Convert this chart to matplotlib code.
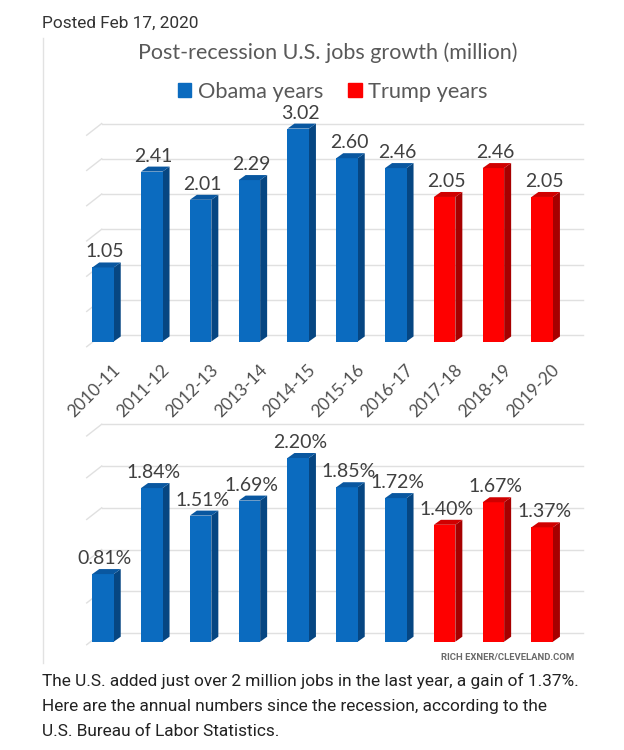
import numpy as np
import matplotlib
matplotlib.use("Agg")
import matplotlib.pyplot as plt
from matplotlib.patches import Polygon, Patch
from matplotlib.lines import Line2D

# data
periods = ['2010-11', '2011-12', '2012-13', '2013-14', '2014-15',
           '2015-16', '2016-17', '2017-18', '2018-19', '2019-20']
jobs = [1.05, 2.41, 2.01, 2.29, 3.02, 2.60, 2.46, 2.05, 2.46, 2.05]
pct = [0.81, 1.84, 1.51, 1.69, 2.20, 1.85, 1.72, 1.40, 1.67, 1.37]
president = ['Obama'] * 7 + ['Trump'] * 3

W, H = 624, 750
fig = plt.figure(figsize=(W / 100, H / 100), dpi=100)
fig.patch.set_facecolor('white')

front = {'Obama': '#0b6bbf', 'Trump': '#fe0000'}
side = {'Obama': '#064682', 'Trump': '#a60000'}
top = {'Obama': '#0957a0', 'Trump': '#d00000'}

BAR0 = 103.0      # pixel x of first bar centre
STEP = 48.8       # pixels between bars
BAR_W = 0.44      # front face width (data units)
DX, DY = 7.0, 5.0  # 3d depth of a bar, pixels
LABEL_FONT = ['Lato', 'DejaVu Sans']
PAGE_FONT = ['Roboto', 'DejaVu Sans']


def px_axes(x0, y0, x1, y1):
    return fig.add_axes([x0 / W, 1 - y1 / H, (x1 - x0) / W, (y1 - y0) / H])


def panel(y_top, y_base, ppu, values, fmt, grid_vals, grid_shift):
    ax = px_axes(80, y_top, 595, y_base)
    ax.set_xlim((80 - BAR0) / STEP, (595 - BAR0) / STEP)
    ax.set_ylim(0, (y_base - y_top) / ppu)
    ax.axis('off')
    x = np.arange(len(values))
    dx = DX / STEP
    dy = DY / ppu

    # back wall gridlines with a short diagonal on the left
    gx0 = (101.7 - BAR0) / STEP
    gx1 = (582.7 - BAR0) / STEP
    gdx = 15.0 / STEP
    gdy = 11.7 / ppu
    for g in grid_vals:
        gy = g + grid_shift / ppu
        ax.add_line(Line2D([gx0, gx1], [gy, gy], color='#e0e0e0', lw=1,
                           zorder=1, clip_on=False))
        ax.add_line(Line2D([gx0 - gdx, gx0], [gy - gdy, gy], color='#e0e0e0',
                           lw=1, zorder=1, clip_on=False))

    colors = [front[p] for p in president]
    ax.bar(x, values, width=BAR_W, color=colors, zorder=3)
    for xi, v, p in zip(x, values, president):
        l, r = xi - BAR_W / 2, xi + BAR_W / 2
        ax.add_patch(Polygon([(r, 0), (r + dx, dy), (r + dx, v + dy), (r, v)],
                             closed=True, color=side[p], lw=0, zorder=2))
        ax.add_patch(Polygon([(l, v), (r, v), (r + dx, v + dy), (l + dx, v + dy)],
                             closed=True, color=top[p], lw=0, zorder=3))
        ax.annotate(fmt.format(v), (xi, v), xytext=(2, 10),
                    textcoords='offset pixels', ha='center', va='baseline',
                    fontsize=14, color='#404040', family=LABEL_FONT)
    return ax


ax1 = panel(100, 341.5, 70.5, jobs, '{:.2f}', np.arange(0, 3.01, 0.5), 6.5)
for xi, lab in zip(np.arange(len(periods)), periods):
    ax1.annotate(lab, (xi, 0), xytext=(15, -26), textcoords='offset pixels',
                 rotation=45, rotation_mode='anchor', ha='right', va='center',
                 fontsize=12.5, color='#505050', family=LABEL_FONT,
                 annotation_clip=False)

ax2 = panel(400, 641.7, 83.5, pct, '{:.2f}%', np.arange(0, 2.51, 0.5), 8.7)

# title, legend and page text
fig.text(328 / W, 1 - 53 / H, 'Post-recession U.S. jobs growth (million)',
         ha='center', va='center', fontsize=15.5, color='#595959',
         family=LABEL_FONT)
handles = [Patch(color=front['Obama'], label='Obama years'),
           Patch(color=front['Trump'], label='Trump years')]
fig.legend(handles=handles, loc='center', bbox_to_anchor=(333 / W, 1 - 92 / H),
           ncol=2, frameon=False, handlelength=0.6, handleheight=0.6,
           handletextpad=0.3, columnspacing=1.15,
           prop={'family': LABEL_FONT, 'size': 15.7}, labelcolor='#595959')

fig.text(42 / W, 1 - 23 / H, 'Posted Feb 17, 2020', ha='left', va='center',
         fontsize=12.4, color='#333333', family=PAGE_FONT)
fig.add_artist(Line2D([43 / W, 43 / W], [1 - 38 / H, 1 - 663 / H],
                      color='#e2e2e2', lw=1))
fig.text(574 / W, 1 - 657 / H, 'RICH EXNER/CLEVELAND.COM', ha='right',
         va='center', fontsize=6.8, fontweight='bold', color='#6a6a6a',
         family=PAGE_FONT)
caption = ['The U.S. added just over 2 million jobs in the last year, a gain of 1.37%.',
           'Here are the annual numbers since the recession, according to the',
           'U.S. Bureau of Labor Statistics.']
for i, line in enumerate(caption):
    fig.text(42 / W, 1 - (681 + 25 * i) / H, line, ha='left', va='center',
             fontsize=12.4, color='#222222', family=PAGE_FONT)

fig.savefig('out.png', dpi=100)
